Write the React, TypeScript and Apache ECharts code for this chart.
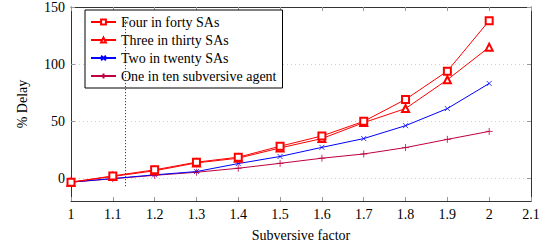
import React, { useEffect, useRef } from "react";
import * as echarts from "echarts";

const xValues = [1, 1.1, 1.2, 1.3, 1.4, 1.5, 1.6, 1.7, 1.8, 1.9, 2];
const fourInForty = [-3.5, 2, 7.3, 14, 18.4, 28, 37, 49.8, 69, 93.8, 138];
const threeInThirty = [-3.5, 1.5, 6.5, 13.4, 17.5, 26.5, 34.7, 48.7, 61, 86.3, 114.8];
const twoInTwenty = [-3.5, -0.3, 2.9, 5.8, 12.8, 19, 27, 34.7, 46, 61, 83];
const oneInTen = [-3.5, -0.5, 2.5, 5.2, 8.7, 13, 17.5, 21.2, 26.8, 34, 41];
const seriesNames = ["Four in forty SAs", "Three in thirty SAs", "Two in twenty SAs", "One in ten subversive agent"];
const yTicks = [0, 50, 100, 150];
const markerX = 1.13;

const FONT = "Liberation Serif";
const CROSS = "path://M0,0L10,10M10,0L0,10";
const PLUS = "path://M5,0L5,10M0,5L10,5";

export default function App() {
  const ref = useRef<HTMLDivElement>(null);
  useEffect(() => {
    if (!ref.current) return;
    const chart = echarts.init(ref.current, null, { renderer: "svg" });
    const pair = (arr: number[]) => arr.map((v, i) => [xValues[i], v]);
    const mk = (name: string, data: number[], color: string, symbol: string, size: number, extra: any = {}) => ({
      type: "line",
      name,
      data: pair(data),
      symbol,
      symbolSize: size,
      showSymbol: true,
      lineStyle: { color, width: 1 },
      itemStyle: { color, borderColor: color, borderWidth: 0.8 },
      ...extra,
    });
    const xTickFmt = (v: number) => String(Number(v.toFixed(1)));
    const ts = { fontFamily: FONT, fontSize: 14, color: "#000" };
    chart.setOption({
      animation: false,
      textStyle: { fontFamily: FONT },
      grid: { left: 71, right: 18, top: 7, bottom: 50, show: false },
      legend: {
        orient: "vertical",
        left: 85,
        top: 10,
        backgroundColor: "#fff",
        borderColor: "#000",
        borderWidth: 1,
        borderRadius: 0,
        padding: [5, 6, 5, 5],
        itemWidth: 25,
        itemHeight: 6,
        itemGap: 4,
        textStyle: { ...ts, lineHeight: 14 },
        data: seriesNames,
      },
      xAxis: [
        {
          type: "value",
          min: 1,
          max: 2.1,
          interval: 0.1,
          name: "Subversive factor",
          nameLocation: "middle",
          nameGap: 27,
          nameTextStyle: ts,
          axisLine: { show: true, onZero: false, lineStyle: { color: "#333", width: 1 } },
          axisTick: { show: true, inside: true, length: 4, lineStyle: { color: "#999" } },
          axisLabel: { ...ts, margin: 6, formatter: xTickFmt },
          splitLine: { show: false },
        },
        {
          type: "value",
          position: "top",
          min: 1,
          max: 2.1,
          interval: 0.1,
          axisLine: { show: true, onZero: false, lineStyle: { color: "#333", width: 1 } },
          axisTick: { show: true, inside: true, length: 4, lineStyle: { color: "#999" } },
          axisLabel: { show: false },
          splitLine: { show: false },
        },
      ],
      yAxis: [
        {
          type: "value",
          min: -20,
          max: 150,
          name: "% Delay",
          nameLocation: "middle",
          nameGap: 42,
          nameRotate: 90,
          nameTextStyle: ts,
          axisLine: { show: true, onZero: false, lineStyle: { color: "#333", width: 1 } },
          axisTick: { show: true, inside: true, length: 4, customValues: yTicks, lineStyle: { color: "#999" } },
          axisLabel: { ...ts, margin: 6, customValues: yTicks },
          splitLine: { show: true, lineStyle: { color: "#d0d0d0", type: [1, 3], width: 1 } },
        },
        {
          type: "value",
          position: "right",
          min: -20,
          max: 150,
          axisLine: { show: true, onZero: false, lineStyle: { color: "#333", width: 1 } },
          axisTick: { show: true, inside: true, length: 4, customValues: yTicks, lineStyle: { color: "#999" } },
          axisLabel: { show: false, customValues: yTicks },
          splitLine: { show: false },
        },
      ],
      series: [
        mk(seriesNames[3], oneInTen, "#bf0040", PLUS, 7, {
          markLine: {
            silent: true,
            symbol: "none",
            label: { show: false },
            lineStyle: { color: "#222", type: [1, 2], width: 1 },
            data: [[{ coord: [markerX, -7] }, { coord: [markerX, 140] }]],
          },
        }),
        mk(seriesNames[2], twoInTwenty, "#0000ff", CROSS, 5),
        mk(seriesNames[1], threeInThirty, "#ff0000", "emptyTriangle", 7),
        mk(seriesNames[0], fourInForty, "#ff0000", "emptyRect", 7),
      ],
    });
    return () => chart.dispose();
  }, []);
  return <div ref={ref} style={{ width: 549, height: 251, position: "absolute", left: 0, top: 0 }} />;
}
